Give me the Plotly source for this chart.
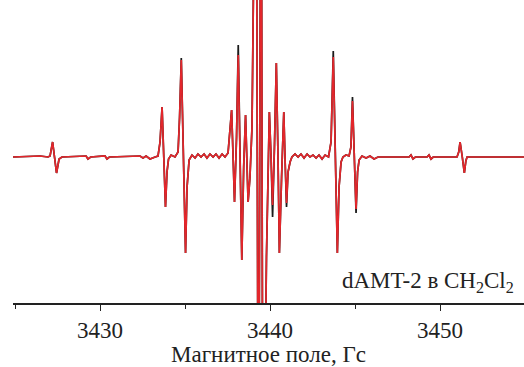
import plotly.graph_objects as go

# Magnetic field (G) and EPR derivative intensity (a.u.)
field_red = [
    3424.88, 3426.47, 3426.94, 3427.06, 3427.21, 3427.32, 3427.44, 3427.59, 3427.76,
    3429.18, 3429.29, 3429.45, 3430.29, 3430.41, 3430.55,
    3432.35, 3432.53, 3432.71, 3432.94, 3433.24,
    3433.41, 3433.53, 3433.65, 3433.75, 3433.85, 3433.94, 3434.03, 3434.18, 3434.41,
    3434.59, 3434.68, 3434.78, 3434.90, 3435.03, 3435.12, 3435.24,
    3435.41, 3435.59, 3435.76, 3435.94, 3436.12, 3436.29, 3436.47, 3436.65, 3436.82,
    3437.00, 3437.18, 3437.35, 3437.53,
    3437.74, 3437.91, 3438.03, 3438.13, 3438.24, 3438.34, 3438.45, 3438.56, 3438.71,
    3438.82, 3438.94, 3439.18, 3439.32, 3439.47, 3439.59, 3439.79,
    3439.96, 3440.06, 3440.15, 3440.26, 3440.37, 3440.47, 3440.55, 3440.68, 3440.81,
    3440.88, 3440.97, 3441.06, 3441.18, 3441.29,
    3441.47, 3441.65, 3441.82, 3442.00, 3442.18, 3442.35, 3442.53, 3442.71, 3442.88,
    3443.06, 3443.24, 3443.44,
    3443.59, 3443.72, 3443.84, 3443.96, 3444.06, 3444.18, 3444.29, 3444.47, 3444.65,
    3444.76, 3444.85, 3444.95, 3445.06, 3445.15, 3445.24,
    3445.41, 3445.65, 3445.88, 3446.12, 3446.35,
    3448.18, 3448.29, 3448.41, 3448.55, 3449.24, 3449.35, 3449.47, 3449.60,
    3451.00, 3451.10, 3451.18, 3451.31, 3451.43, 3451.52, 3451.59, 3454.94,
]
signal_red = [
    0, 1, 0, 1, 15, 0, -16, -2, 0,
    1, -2, 0, 1, -2, 0,
    1, -1, 1, -2, 0,
    1, 15, 50, 0, -50, -15, -2, 2, 0,
    5, 40, 97, 0, -96, -30, -3,
    2, -1, 3, 0, 3, -1, 3, 0, 3,
    -1, 3, 0, 4,
    47, -45, 20, 102, 0, -103, -10, 42, -45,
    -20, 30, 420, -420, 420, -420, -100,
    45, 0, -48, 10, 94, 0, -96, -20, 45,
    0, -46, -15, -5, 0,
    3, 0, 3, -1, 3, 0, 2, -1, 2,
    -2, 2, 0,
    15, 100, 0, -96, -30, -5, 0, 2, 1,
    10, 56, 0, -52, -15, -3,
    1, -1, 1, -2, 0,
    0, 2, -2, 0, 0, 2, -2, 0,
    0, 5, 15, 0, -16, -4, 0, 0,
]

# Black (underlying) spectrum differs only at a few extremes
black_tip_field = [3434.78, 3438.13, 3440.15, 3440.97, 3443.72, 3444.85, 3445.06]
black_tip_signal = [99, 112, -60, -50, 106, 60, -56]

tick_vals = [3430, 3440, 3450]
tick_text = ["3430", "3440", "3450"]
minor_vals = [3425, 3435, 3445, 3455]
x_title = "Магнитное поле, Гс"
label_text = "dAMT-2 в CH<sub>2</sub>Cl<sub>2</sub>"

field_black = list(field_red)
signal_black = list(signal_red)
for fx, fy in zip(black_tip_field, black_tip_signal):
    signal_black[field_black.index(fx)] = fy

fig = go.Figure()
fig.add_trace(go.Scatter(x=field_black, y=signal_black, mode="lines",
                         line=dict(color="#1a1a1a", width=1.7), showlegend=False))
fig.add_trace(go.Scatter(x=field_red, y=signal_red, mode="lines",
                         line=dict(color="#e3262b", width=1.7), showlegend=False))

serif = "Liberation Serif, Times New Roman, serif"
fig.update_layout(
    width=524, height=367,
    margin=dict(l=13, r=0, t=0, b=64),
    paper_bgcolor="white", plot_bgcolor="white",
    font=dict(family=serif, size=23, color="#222"),
    xaxis=dict(
        range=[3424.88, 3454.94],
        tickmode="array", tickvals=tick_vals, ticktext=tick_text,
        ticks="outside", ticklen=6, tickwidth=1.2, tickcolor="#222",
        showline=True, linecolor="#222", linewidth=1.5,
        showgrid=False, zeroline=False,
        tickfont=dict(family=serif, size=23, color="#222"),
        title=dict(text=x_title, font=dict(family=serif, size=23, color="#222"), standoff=7),
        automargin=False,
        minor=dict(tickmode="array", tickvals=minor_vals,
                   ticks="outside", ticklen=4, tickcolor="#222", showgrid=False),
    ),
    yaxis=dict(range=[-146, 157], visible=False, showgrid=False, zeroline=False),
    annotations=[dict(
        text=label_text, x=3444.12, xref="x", xanchor="left",
        y=0.07, yref="paper", yanchor="middle", showarrow=False,
        font=dict(family=serif, size=23, color="#222"),
    )],
)

fig.write_html("out.html", config={"displayModeBar": False},
               post_script="document.body.style.margin='0';")
